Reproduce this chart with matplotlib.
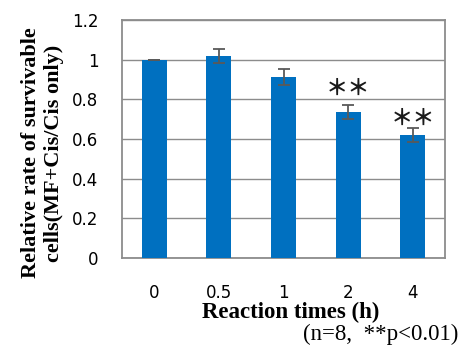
import matplotlib
matplotlib.use("Agg")
import matplotlib.pyplot as plt
import numpy as np

categories = ["0", "0.5", "1", "2", "4"]
values = [1.0, 1.019, 0.913, 0.735, 0.62]
errors = [0.0, 0.037, 0.04, 0.035, 0.034]
signif = ["", "", "", "**", "**"]
signif_y = [None, None, None, 0.855, 0.705]
yticks = [0, 0.2, 0.4, 0.6, 0.8, 1.0, 1.2]
ytick_labels = ["0", "0.2", "0.4", "0.6", "0.8", "1", "1.2"]

fig = plt.figure(figsize=(4.61, 3.47), dpi=100)
ax = fig.add_axes([122/461, 1-258/347, (445-122)/461, (258-20)/347])

x = np.arange(len(categories))
ax.bar(x, values, width=0.39, color="#0070C0", zorder=3)
ax.errorbar(x, values, yerr=errors, fmt="none", ecolor="#595959", elinewidth=1.3,
            capsize=4, capthick=1.3, zorder=4)
for xi, s, sy in zip(x, signif, signif_y):
    if s:
        ax.text(xi, sy, "＊＊", ha="center", va="center", fontsize=16,
                family="Noto Sans CJK JP", fontweight="bold", color="#1a1a1a")

ax.set_xlim(-0.5, len(categories) - 0.5)
ax.set_ylim(0, 1.2)
ax.set_yticks(yticks)
ax.set_yticklabels(ytick_labels, family="DejaVu Sans", fontsize=12)
ax.set_xticks(x)
ax.set_xticklabels(categories, family="DejaVu Sans", fontsize=12)
ax.tick_params(length=0)
ax.tick_params(axis="x", pad=19)
ax.tick_params(axis="y", pad=17)
ax.grid(axis="y", color="#8c8c8c", linewidth=1.0, zorder=0)
for sp in ax.spines.values():
    sp.set_color("#8c8c8c")
    sp.set_linewidth(1.3)

fig.text(42/461, 1-153/347, "Relative rate of survivable\ncells(MF+Cis/Cis only)",
         rotation=90, ha="center", va="center", family="Liberation Serif",
         fontweight="bold", fontsize=16, linespacing=1.2)
fig.text(291/461, 1-312/347, "Reaction times (h)", ha="center", va="center",
         family="Liberation Serif", fontweight="bold", fontsize=16.5)
fig.text(458/461, 1-334/347, "(n=8,  **p<0.01)", ha="right", va="center",
         family="Liberation Serif", fontsize=16.5)

fig.savefig("out.png", dpi=100)
